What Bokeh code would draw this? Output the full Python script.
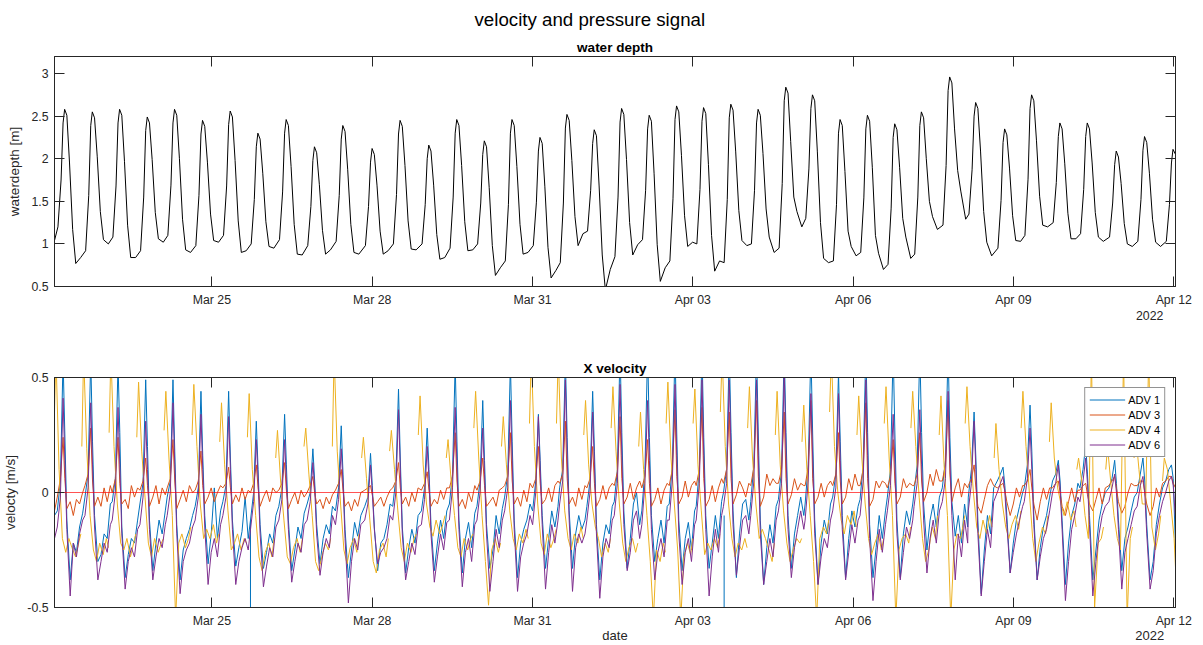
import numpy as np
from datetime import datetime
from bokeh.plotting import figure
from bokeh.layouts import column
from bokeh.models import (Range1d, FixedTicker, DatetimeTickFormatter, NumeralTickFormatter,
                          DatetimeAxis, LinearAxis, Title, Legend, LegendItem)
from bokeh.embed import file_html
from bokeh.resources import INLINE

nan = float("nan")

# ---------------- data (hours since 2022-03-22 00:00) ----------------
tick_dates = ["2022-03-25", "2022-03-28", "2022-03-31", "2022-04-03",
              "2022-04-06", "2022-04-09", "2022-04-12"]
depth_ticks = [0.5, 1, 1.5, 2, 2.5, 3]
vel_ticks = [-0.5, 0, 0.5]
zero_level = [0.0, 0.0]

depth_t = [
    1.3,
    2.85, 4.25, 5.15, 5.85, 6.85, 8.05, 9.45, 10.85, 13.05,
    15.28, 16.68, 17.58, 18.28, 19.28, 20.48, 21.88, 23.28, 25.48,
    27.53, 28.93, 29.83, 30.53, 31.53, 32.73, 34.13, 35.53, 37.73,
    39.96, 41.36, 42.26, 42.96, 43.96, 45.16, 46.56, 47.96, 50.16,
    52.21, 53.61, 54.51, 55.21, 56.21, 57.41, 58.81, 60.21, 62.41,
    64.78, 66.18, 67.08, 67.78, 68.78, 69.98, 71.38, 72.78, 74.98,
    77.21, 78.61, 79.51, 80.21, 81.21, 82.41, 83.81, 85.21, 87.41,
    89.64, 91.04, 91.94, 92.64, 93.64, 94.84, 96.24, 97.64, 99.84,
    102.35, 103.75, 104.65, 105.35, 106.35, 107.55, 108.95, 110.35, 112.55,
    115.05, 116.45, 117.35, 118.05, 119.05, 120.25, 121.65, 123.05, 125.25,
    127.79, 129.19, 130.09, 130.79, 131.79, 132.99, 134.39, 135.79, 137.99,
    140.94, 142.34, 143.24, 143.94, 144.94, 146.14, 147.54, 148.94, 151.14,
    153.51, 154.91, 155.81, 156.51, 157.51, 158.71, 160.11, 161.51, 163.71,
    166.39, 167.79, 168.69, 169.39, 170.39, 171.59, 172.99, 174.39, 176.59,
    178.96, 180.36, 181.26, 181.96, 182.96, 184.16, 185.56, 186.96, 189.16,
    191.34, 192.74, 193.64, 194.34, 195.34, 196.54, 197.94, 199.34, 201.54,
    203.77, 205.17, 206.07, 206.77, 207.77, 208.97, 210.37, 211.77, 213.97,
    216.34, 217.74, 218.64, 219.34, 220.34, 221.54, 222.94, 224.34, 226.54,
    228.46, 229.86, 230.76, 231.46, 232.46, 233.66, 235.06, 236.46, 238.66,
    240.71, 242.11, 243.01, 243.71, 244.71, 245.91, 247.31, 248.71, 250.91,
    253.01, 254.41, 255.31, 256.01, 257.01, 258.21, 259.61, 261.01, 263.21,
    265.39, 266.79, 267.69, 268.39, 269.39, 270.59, 271.99, 273.39, 275.59,
    277.69, 279.09, 279.99, 280.69, 281.69, 282.89, 284.29, 285.69, 287.89,
    289.81, 291.21, 292.11, 292.81, 293.81, 295.01, 296.41, 297.81, 300.01,
    302.06, 303.46, 304.36, 305.06, 306.06, 307.26, 308.66, 310.06, 312.26,
    314.31, 315.71, 316.61, 317.31, 318.31, 319.51, 320.91, 322.31, 324.51,
    326.75, 328.15, 329.05, 329.75, 330.75, 331.95, 333.35, 334.75, 336.95,
    338.73, 340.13, 341.03, 341.73, 342.73, 343.93, 345.33, 346.73, 348.93,
    351.12, 352.52, 353.42, 354.12, 355.12, 356.32, 357.72, 359.12, 361.32,
    363.41, 364.81, 365.71, 366.41, 367.41, 368.61, 370.01, 371.41, 373.61,
    375.67, 377.07, 377.97, 378.67, 379.67, 380.87, 382.27, 383.67, 385.87,
    387.65, 389.05, 389.95, 390.65, 391.65, 392.85, 394.25, 395.65, 397.85,
    400.35, 401.75, 402.65, 403.35, 404.35, 405.55, 406.95, 408.35, 410.55,
    412.02, 413.42, 414.32, 415.02, 416.02, 417.22, 418.62, 420.02, 422.22,
    425.03, 426.43, 427.33, 428.03, 429.03, 430.23, 431.63, 433.03, 435.23,
    437.15, 438.55, 439.45, 440.15, 441.15, 442.35, 443.75, 445.15, 447.35,
    449.85, 451.25, 452.15, 452.85, 453.85, 455.05, 456.45, 457.85, 460.05,
    462.15, 463.55, 464.45, 465.15, 466.15, 467.35, 468.75, 470.15, 472.35,
    475.16, 476.56, 477.46, 478.16, 479.16, 480.36, 481.76, 483.16, 485.36,
    487.87, 489.27, 490.17, 490.87, 491.87, 493.07, 494.47, 495.87, 498.07,
    500.66, 502.06, 502.96, 503.66, 504.8,
]
depth_v = [
    1.04,
    1.2, 1.75, 2.42, 2.58, 2.51, 1.95, 1.17, 0.77, 0.84,
    0.92, 1.57, 2.39, 2.55, 2.48, 2.03, 1.38, 1.05, 1.0,
    1.08, 1.68, 2.42, 2.58, 2.51, 1.97, 1.22, 0.84, 0.84,
    0.92, 1.55, 2.33, 2.49, 2.42, 1.99, 1.37, 1.06, 1.02,
    1.1, 1.69, 2.42, 2.58, 2.51, 2.0, 1.29, 0.93, 0.9,
    0.98, 1.57, 2.29, 2.45, 2.38, 1.96, 1.35, 1.04, 1.02,
    1.1, 1.68, 2.4, 2.56, 2.49, 1.98, 1.27, 0.9, 0.92,
    1.0, 1.52, 2.14, 2.3, 2.23, 1.83, 1.26, 0.97, 0.95,
    1.05, 1.61, 2.3, 2.46, 2.39, 1.91, 1.23, 0.88, 0.87,
    0.98, 1.44, 1.98, 2.14, 2.07, 1.7, 1.16, 0.88, 0.93,
    1.03, 1.57, 2.23, 2.39, 2.32, 1.87, 1.23, 0.9, 0.88,
    0.98, 1.44, 1.96, 2.12, 2.05, 1.69, 1.15, 0.88, 0.92,
    1.0, 1.58, 2.29, 2.45, 2.38, 1.92, 1.27, 0.94, 0.93,
    1.0, 1.46, 2.0, 2.16, 2.09, 1.69, 1.11, 0.82, 0.84,
    0.95, 1.55, 2.3, 2.46, 2.39, 1.92, 1.26, 0.92, 0.93,
    1.0, 1.48, 2.05, 2.21, 2.14, 1.66, 0.98, 0.63, 0.72,
    0.8, 1.46, 2.3, 2.46, 2.39, 1.91, 1.23, 0.88, 0.9,
    0.98, 1.49, 2.09, 2.25, 2.18, 1.67, 0.96, 0.6, 0.69,
    0.78, 1.48, 2.36, 2.52, 2.45, 1.98, 1.32, 0.98, 1.12,
    1.15, 1.63, 2.18, 2.34, 2.27, 1.68, 0.87, 0.46, 0.7,
    0.85, 1.55, 2.43, 2.59, 2.52, 1.99, 1.25, 0.87, 0.99,
    1.05, 1.63, 2.35, 2.51, 2.44, 1.83, 0.99, 0.56, 0.72,
    0.8, 1.53, 2.46, 2.62, 2.55, 2.04, 1.33, 0.97, 1.02,
    1.0, 1.64, 2.44, 2.6, 2.53, 1.93, 1.1, 0.68, 0.8,
    0.78, 1.52, 2.48, 2.64, 2.57, 2.08, 1.39, 1.04, 0.98,
    1.0, 1.63, 2.42, 2.58, 2.51, 2.06, 1.41, 1.08, 0.9,
    0.95, 1.71, 2.68, 2.84, 2.77, 2.2, 1.55, 1.38, 1.2,
    1.3, 1.88, 2.59, 2.75, 2.68, 2.08, 1.25, 0.83, 0.78,
    0.8, 1.46, 2.3, 2.46, 2.39, 1.85, 1.15, 0.97, 0.86,
    0.9, 1.54, 2.35, 2.51, 2.44, 1.9, 1.1, 0.89, 0.7,
    0.76, 1.42, 2.25, 2.41, 2.34, 1.9, 1.3, 1.08, 0.83,
    0.88, 1.55, 2.39, 2.55, 2.48, 2.0, 1.5, 1.32, 1.17,
    1.22, 1.92, 2.8, 2.96, 2.89, 2.35, 1.86, 1.62, 1.29,
    1.35, 1.87, 2.5, 2.66, 2.59, 2.09, 1.38, 1.02, 0.86,
    0.95, 1.51, 2.19, 2.35, 2.28, 1.89, 1.33, 1.04, 1.03,
    1.1, 1.76, 2.59, 2.75, 2.68, 2.21, 1.56, 1.22, 1.2,
    1.25, 1.72, 2.26, 2.42, 2.35, 1.94, 1.36, 1.06, 1.06,
    1.12, 1.64, 2.26, 2.42, 2.35, 1.95, 1.37, 1.08, 1.03,
    1.08, 1.48, 1.93, 2.09, 2.02, 1.71, 1.24, 1.0, 0.97,
    1.03, 1.52, 2.1, 2.26, 2.19, 1.83, 1.29, 1.02, 0.97,
    1.03, 1.46, 1.95, 2.11, 2.05,
]

vel_t = [
    1.3,
    2.55, 3.95, 5.15, 5.95, 6.85, 8.35, 9.75, 11.15, 12.55, 13.95,
    14.98, 16.38, 17.58, 18.38, 19.28, 20.78, 22.18, 23.58, 24.98, 26.38,
    27.23, 28.63, 29.83, 30.63, 31.53, 33.03, 34.43, 35.83, 37.23, 38.63,
    39.66, 41.06, 42.26, 43.06, 43.96, 45.46, 46.86, 48.26, 49.66, 51.06,
    51.91, 53.31, 54.51, 55.31, 56.21, 57.71, 59.11, 60.51, 61.91, 63.31,
    64.48, 65.88, 67.08, 67.88, 68.78, 70.28, 71.68, 73.08, 74.48, 75.88,
    76.91, 78.31, 79.51, 80.31, 81.21, 82.71, 84.11, 85.51, 86.91, 88.31,
    89.34, 90.74, 91.94, 92.74, 93.64, 95.14, 96.54, 97.94, 99.34, 100.74,
    102.05, 103.45, 104.65, 105.45, 106.35, 107.85, 109.25, 110.65, 112.05, 113.45,
    114.75, 116.15, 117.35, 118.15, 119.05, 120.55, 121.95, 123.35, 124.75, 126.15,
    127.49, 128.89, 130.09, 130.89, 131.79, 133.29, 134.69, 136.09, 137.49, 138.89,
    140.64, 142.04, 143.24, 144.04, 144.94, 146.44, 147.84, 149.24, 150.64, 152.04,
    153.21, 154.61, 155.81, 156.61, 157.51, 159.01, 160.41, 161.81, 163.21, 164.61,
    166.09, 167.49, 168.69, 169.49, 170.39, 171.89, 173.29, 174.69, 176.09, 177.49,
    178.66, 180.06, 181.26, 182.06, 182.96, 184.46, 185.86, 187.26, 188.66, 190.06,
    191.04, 192.44, 193.64, 194.44, 195.34, 196.84, 198.24, 199.64, 201.04, 202.44,
    203.47, 204.87, 206.07, 206.87, 207.77, 209.27, 210.67, 212.07, 213.47, 214.87,
    216.04, 217.44, 218.64, 219.44, 220.34, 221.84, 223.24, 224.64, 226.04, 227.44,
    228.16, 229.56, 230.76, 231.56, 232.46, 233.96, 235.36, 236.76, 238.16, 239.56,
    240.41, 241.81, 243.01, 243.81, 244.71, 246.21, 247.61, 249.01, 250.41, 251.81,
    252.71, 254.11, 255.31, 256.11, 257.01, 258.51, 259.91, 261.31, 262.71, 264.11,
    265.09, 266.49, 267.69, 268.49, 269.39, 270.89, 272.29, 273.69, 275.09, 276.49,
    277.39, 278.79, 279.99, 280.79, 281.69, 283.19, 284.59, 285.99, 287.39, 288.79,
    289.51, 290.91, 292.11, 292.91, 293.81, 295.31, 296.71, 298.11, 299.51, 300.91,
    301.76, 303.16, 304.36, 305.16, 306.06, 307.56, 308.96, 310.36, 311.76, 313.16,
    314.01, 315.41, 316.61, 317.41, 318.31, 319.81, 321.21, 322.61, 324.01, 325.41,
    326.45, 327.85, 329.05, 329.85, 330.75, 332.25, 333.65, 335.05, 336.45, 337.85,
    338.43, 339.83, 341.03, 341.83, 342.73, 344.23, 345.63, 347.03, 348.43, 349.83,
    350.82, 352.22, 353.42, 354.22, 355.12, 356.62, 358.02, 359.42, 360.82, 362.22,
    363.11, 364.51, 365.71, 366.51, 367.41, 368.91, 370.31, 371.71, 373.11, 374.51,
    375.37, 376.77, 377.97, 378.77, 379.67, 381.17, 382.57, 383.97, 385.37, 386.77,
    387.35, 388.75, 389.95, 390.75, 391.65, 393.15, 394.55, 395.95, 397.35, 398.75,
    400.05, 401.45, 402.65, 403.45, 404.35, 405.85, 407.25, 408.65, 410.05, 411.45,
    411.72, 413.12, 414.32, 415.12, 416.02, 417.52, 418.92, 420.32, 421.72, 423.12,
    424.73, 426.13, 427.33, 428.13, 429.03, 430.53, 431.93, 433.33, 434.73, 436.13,
    436.85, 438.25, 439.45, 440.25, 441.15, 442.65, 444.05, 445.45, 446.85, 448.25,
    449.55, 450.95, 452.15, 452.95, 453.85, 455.35, 456.75, 458.15, 459.55, 460.95,
    461.85, 463.25, 464.45, 465.25, 466.15, 467.65, 469.05, 470.45, 471.85, 473.25,
    474.86, 476.26, 477.46, 478.26, 479.16, 480.66, 482.06, 483.46, 484.86, 486.26,
    487.57, 488.97, 490.17, 490.97, 491.87, 493.37, 494.77, 496.17, 497.57, 498.97,
    500.36, 501.76, 502.96, 503.76, 504.8,
]

adv1 = [
    -0.1,
    -0.08, 0.05, 0.58, 0.25, -0.12, -0.38, -0.22, -0.26, -0.15, -0.09,
    -0.02, 0.08, 0.58, 0.22, -0.10, -0.30, -0.27, -0.18, -0.20, -0.05,
    -0.04, 0.06, 0.56, 0.26, -0.15, -0.37, -0.27, -0.20, -0.22, -0.12,
    -0.05, 0.04, 0.49, 0.20, -0.12, -0.34, -0.22, -0.12, -0.18, -0.08,
    -0.02, 0.05, 0.49, 0.18, -0.14, -0.38, -0.25, -0.20, -0.16, -0.10,
    -0.06, 0.02, 0.44, 0.16, -0.10, -0.31, -0.18, 0.02, -0.20, -0.08,
    -0.04, 0.03, 0.44, 0.15, -0.12, -0.32, -0.24, -0.17, -0.02, -0.20,
    -0.12, 0.00, 0.31, 0.10, -0.14, -0.33, -0.26, -0.18, -0.22, -0.10,
    -0.06, 0.02, 0.34, 0.12, -0.12, -0.34, -0.25, -0.15, -0.20, -0.09,
    -0.05, 0.00, 0.19, 0.05, -0.14, -0.31, -0.20, -0.14, -0.18, -0.06,
    -0.08, 0.02, 0.29, 0.08, -0.16, -0.37, -0.25, -0.13, -0.19, -0.10,
    -0.06, -0.02, 0.17, 0.03, -0.15, -0.34, -0.22, -0.20, -0.14, -0.05,
    -0.06, 0.06, 0.45, 0.15, -0.15, -0.35, -0.24, -0.16, -0.22, -0.10,
    -0.08, 0.02, 0.28, 0.10, -0.14, -0.34, -0.22, -0.12, -0.20, -0.08,
    -0.05, 0.08, 0.56, 0.22, -0.12, -0.35, -0.20, -0.13, -0.24, -0.09,
    -0.06, 0.05, 0.40, 0.14, -0.14, -0.33, -0.25, -0.10, -0.18, -0.07,
    -0.02, 0.08, 0.56, 0.22, -0.12, -0.37, -0.22, -0.16, -0.12, -0.05,
    -0.08, 0.05, 0.34, 0.14, -0.10, -0.33, -0.20, -0.08, -0.15, -0.06,
    0.02, 0.10, 0.58, 0.24, -0.08, -0.33, -0.18, -0.10, -0.16, -0.12,
    -0.06, 0.05, 0.44, 0.18, -0.14, -0.38, -0.22, -0.14, -0.18, -0.06,
    -0.04, 0.10, 0.62, 0.26, -0.08, -0.33, -0.20, -0.05, 0.00, -0.14,
    -0.08, 0.10, 0.62, 0.24, -0.10, -0.30, -0.20, -0.12, -0.22, -0.06,
    -0.05, 0.12, 0.62, 0.25, -0.12, -0.34, -0.20, -0.13, -0.25, -0.08,
    -0.06, 0.10, 0.62, 0.24, -0.10, -0.33, -0.22, -0.10, -0.20, -0.04,
    0.00, 0.10, 0.62, 0.26, -0.08, -0.37, -0.18, -0.05, -0.03, -0.12,
    -0.04, 0.12, 0.62, 0.25, -0.12, -0.40, -0.24, -0.14, -0.22, -0.06,
    -0.03, 0.10, 0.62, 0.26, -0.10, -0.33, -0.18, -0.10, -0.02, -0.10,
    -0.05, 0.12, 0.62, 0.25, -0.12, -0.40, -0.22, -0.12, -0.18, -0.05,
    -0.02, 0.08, 0.52, 0.22, -0.10, -0.37, -0.20, -0.08, -0.15, -0.06,
    -0.03, 0.12, 0.62, 0.26, -0.14, -0.37, -0.24, -0.10, -0.20, -0.08,
    -0.02, 0.10, 0.62, 0.25, -0.12, -0.37, -0.18, -0.08, -0.14, -0.05,
    0.00, 0.12, 0.62, 0.26, -0.05, -0.25, -0.12, -0.05, -0.15, -0.02,
    0.02, 0.14, 0.62, 0.24, -0.04, -0.19, -0.10, -0.22, -0.05, -0.15,
    -0.02, 0.10, 0.35, 0.15, -0.12, -0.44, -0.25, -0.10, -0.18, 0.02,
    0.05, 0.08, 0.11, 0.03, -0.10, -0.35, -0.22, -0.12, -0.06, 0.00,
    0.02, 0.12, 0.38, 0.18, -0.10, -0.38, -0.24, -0.15, -0.10, -0.02,
    0.05, 0.08, 0.14, 0.05, -0.12, -0.40, -0.22, -0.10, -0.05, 0.04,
    0.02, 0.10, 0.21, 0.08, -0.10, -0.38, -0.25, -0.12, -0.05, 0.00,
    0.02, 0.06, 0.14, 0.04, -0.12, -0.34, -0.20, -0.15, -0.08, -0.02,
    0.00, 0.08, 0.15, 0.05, -0.14, -0.38, -0.30, -0.14, -0.05, 0.02,
    0.05, 0.10, 0.12, 0.06, -0.24,
]

adv6 = [
    -0.2,
    -0.15, -0.02, 0.41, 0.14, -0.16, -0.45, -0.22, -0.28, -0.18, -0.12,
    -0.10, 0.02, 0.39, 0.12, -0.15, -0.38, -0.30, -0.22, -0.26, -0.14,
    -0.12, 0.00, 0.37, 0.12, -0.18, -0.42, -0.30, -0.24, -0.28, -0.16,
    -0.14, -0.02, 0.31, 0.10, -0.16, -0.38, -0.28, -0.20, -0.24, -0.14,
    -0.10, 0.00, 0.39, 0.12, -0.18, -0.44, -0.30, -0.25, -0.22, -0.15,
    -0.12, -0.02, 0.34, 0.10, -0.15, -0.40, -0.26, -0.20, -0.28, -0.14,
    -0.10, -0.02, 0.33, 0.10, -0.16, -0.40, -0.30, -0.24, -0.20, -0.25,
    -0.16, -0.04, 0.23, 0.06, -0.18, -0.41, -0.32, -0.24, -0.28, -0.15,
    -0.12, -0.03, 0.23, 0.05, -0.16, -0.39, -0.30, -0.22, -0.26, -0.14,
    -0.12, -0.04, 0.13, 0.02, -0.18, -0.36, -0.26, -0.20, -0.24, -0.10,
    -0.14, -0.03, 0.19, 0.04, -0.20, -0.48, -0.30, -0.20, -0.25, -0.14,
    -0.12, -0.05, 0.12, 0.00, -0.16, -0.31, -0.26, -0.24, -0.20, -0.10,
    -0.12, 0.00, 0.36, 0.10, -0.18, -0.38, -0.30, -0.22, -0.27, -0.15,
    -0.14, -0.03, 0.20, 0.06, -0.18, -0.39, -0.28, -0.18, -0.25, -0.13,
    -0.12, 0.02, 0.37, 0.12, -0.16, -0.41, -0.26, -0.20, -0.30, -0.14,
    -0.12, 0.00, 0.28, 0.08, -0.18, -0.43, -0.30, -0.16, -0.24, -0.12,
    -0.08, 0.02, 0.40, 0.14, -0.16, -0.43, -0.28, -0.22, -0.18, -0.10,
    -0.14, 0.00, 0.33, 0.10, -0.14, -0.42, -0.26, -0.14, -0.22, -0.12,
    -0.05, 0.05, 0.49, 0.16, -0.12, -0.43, -0.24, -0.18, -0.22, -0.18,
    -0.12, 0.00, 0.35, 0.12, -0.18, -0.46, -0.28, -0.20, -0.24, -0.12,
    -0.10, 0.04, 0.47, 0.16, -0.14, -0.34, -0.26, -0.12, -0.08, -0.20,
    -0.14, 0.04, 0.40, 0.14, -0.16, -0.38, -0.26, -0.20, -0.28, -0.12,
    -0.12, 0.05, 0.47, 0.16, -0.18, -0.40, -0.26, -0.20, -0.30, -0.14,
    -0.12, 0.04, 0.49, 0.16, -0.16, -0.45, -0.28, -0.16, -0.26, -0.10,
    -0.06, 0.04, 0.49, 0.18, -0.14, -0.36, -0.24, -0.12, -0.10, -0.18,
    -0.10, 0.05, 0.49, 0.16, -0.18, -0.40, -0.30, -0.20, -0.28, -0.12,
    -0.08, 0.04, 0.52, 0.18, -0.16, -0.37, -0.24, -0.16, -0.08, -0.16,
    -0.12, 0.05, 0.43, 0.15, -0.18, -0.40, -0.28, -0.20, -0.24, -0.12,
    -0.08, 0.02, 0.43, 0.14, -0.16, -0.38, -0.26, -0.14, -0.22, -0.12,
    -0.10, 0.05, 0.49, 0.16, -0.20, -0.47, -0.30, -0.16, -0.26, -0.14,
    -0.08, 0.03, 0.34, 0.12, -0.18, -0.38, -0.26, -0.15, -0.20, -0.12,
    -0.06, 0.04, 0.36, 0.12, -0.12, -0.35, -0.20, -0.12, -0.22, -0.08,
    -0.04, 0.06, 0.44, 0.14, -0.10, -0.38, -0.18, -0.28, -0.12, -0.22,
    -0.08, 0.04, 0.31, 0.10, -0.18, -0.45, -0.30, -0.16, -0.24, -0.04,
    0.00, 0.04, 0.07, 0.00, -0.14, -0.35, -0.26, -0.18, -0.12, -0.06,
    -0.04, 0.06, 0.28, 0.10, -0.14, -0.38, -0.28, -0.20, -0.16, -0.08,
    0.00, 0.04, 0.12, 0.02, -0.16, -0.47, -0.30, -0.16, -0.10, -0.02,
    -0.04, 0.05, 0.15, 0.04, -0.14, -0.45, -0.30, -0.18, -0.10, -0.06,
    -0.04, 0.02, 0.08, 0.00, -0.16, -0.42, -0.26, -0.20, -0.14, -0.08,
    -0.06, 0.03, 0.07, 0.00, -0.18, -0.42, -0.34, -0.18, -0.10, -0.04,
    0.00, 0.05, 0.07, 0.03, -0.12,
]

adv3 = [
    -0.08,
    -0.02, 0.06, 0.24, 0.06, -0.07, -0.04, -0.10, -0.03, -0.05, 0.00,
    0.03, 0.08, 0.28, 0.05, -0.06, -0.02, -0.06, 0.02, -0.04, 0.03,
    0.00, 0.06, 0.24, 0.04, -0.05, -0.03, -0.07, 0.03, -0.02, 0.02,
    0.01, 0.05, 0.15, 0.03, -0.06, -0.02, 0.03, -0.05, 0.02, -0.01,
    0.02, 0.06, 0.23, 0.05, -0.07, -0.03, 0.01, -0.04, 0.03, 0.00,
    0.01, 0.05, 0.18, 0.03, -0.05, -0.02, 0.02, -0.04, 0.00, 0.03,
    0.02, 0.04, 0.11, 0.02, -0.05, -0.01, -0.04, 0.02, -0.03, 0.01,
    0.00, 0.04, 0.12, 0.02, -0.06, -0.02, 0.01, -0.04, 0.02, 0.00,
    0.01, 0.04, 0.13, 0.01, -0.07, -0.03, 0.00, -0.05, 0.01, -0.02,
    0.00, 0.03, 0.07, 0.00, -0.05, -0.03, -0.07, -0.02, -0.05, -0.01,
    0.01, 0.04, 0.10, 0.01, -0.06, -0.04, -0.08, -0.03, -0.06, 0.00,
    0.01, 0.02, 0.03, -0.01, -0.06, -0.04, -0.02, -0.06, -0.02, 0.01,
    0.02, 0.05, 0.13, 0.02, -0.05, -0.02, -0.06, 0.00, -0.04, 0.02,
    0.01, 0.04, 0.09, 0.01, -0.06, -0.03, -0.05, 0.01, -0.03, 0.02,
    0.02, 0.07, 0.26, 0.05, -0.06, -0.03, -0.07, 0.00, -0.04, 0.03,
    0.01, 0.05, 0.15, 0.03, -0.06, -0.04, -0.02, -0.06, 0.01, 0.02,
    0.03, 0.07, 0.26, 0.05, -0.05, -0.02, -0.06, 0.01, -0.04, 0.04,
    0.02, 0.06, 0.20, 0.04, -0.05, -0.03, 0.02, -0.04, 0.03, 0.05,
    0.04, 0.08, 0.31, 0.06, -0.05, -0.02, -0.06, 0.02, -0.03, 0.03,
    0.02, 0.06, 0.20, 0.04, -0.06, -0.03, 0.03, -0.03, 0.02, 0.04,
    0.03, 0.09, 0.33, 0.06, -0.05, -0.02, 0.04, -0.03, 0.02, 0.05,
    0.02, 0.07, 0.23, 0.04, -0.06, -0.03, 0.02, -0.05, 0.01, 0.04,
    0.03, 0.10, 0.36, 0.07, -0.05, -0.02, 0.05, -0.02, 0.03, 0.05,
    0.03, 0.10, 0.37, 0.06, -0.06, -0.03, 0.03, -0.04, 0.02, 0.06,
    0.04, 0.10, 0.35, 0.06, -0.05, -0.01, 0.05, 0.02, -0.02, 0.04,
    0.03, 0.11, 0.40, 0.07, -0.06, -0.02, 0.08, 0.03, 0.06, 0.04,
    0.04, 0.10, 0.35, 0.06, -0.05, -0.01, 0.06, 0.01, 0.04, 0.03,
    0.03, 0.11, 0.40, 0.06, -0.05, -0.02, 0.04, -0.02, 0.03, 0.05,
    0.03, 0.08, 0.26, 0.05, -0.05, -0.02, 0.06, 0.01, 0.08, 0.03,
    0.03, 0.10, 0.39, 0.06, -0.06, -0.03, 0.05, 0.02, 0.05, 0.04,
    0.02, 0.07, 0.23, 0.04, -0.05, -0.02, 0.06, 0.02, 0.04, 0.03,
    0.03, 0.08, 0.26, 0.05, -0.04, 0.00, 0.08, 0.03, 0.10, 0.05,
    0.05, 0.12, 0.40, 0.08, -0.04, 0.02, 0.06, -0.02, 0.04, 0.02,
    0.03, 0.06, 0.12, 0.02, -0.06, -0.09, -0.03, 0.03, 0.06, 0.03,
    0.02, 0.03, 0.04, 0.01, -0.04, -0.10, -0.05, 0.02, -0.02, 0.03,
    0.03, 0.05, 0.10, 0.02, -0.05, -0.12, -0.04, 0.02, -0.03, 0.02,
    0.02, 0.04, 0.05, 0.00, -0.06, -0.10, -0.04, 0.02, -0.04, 0.01,
    0.01, 0.03, 0.04, -0.01, -0.05, -0.08, -0.03, 0.02, -0.05, 0.02,
    0.03, 0.05, 0.07, 0.02, -0.04, -0.09, -0.06, 0.00, 0.04, 0.03,
    0.03, 0.05, 0.05, 0.00, -0.05, -0.10, -0.06, 0.02, -0.02, 0.04,
    0.05, 0.07, 0.07, 0.04, 0.02,
]

adv4_t = [
    1.3, 1.95, 3.35, 4.85, 6.35, 7.75, 9.15, 10.75, 12.15, 13.15, 13.35,
    13.58, 14.38, 15.78, 17.28, 18.78, 20.18, 21.58, 23.18, 24.58, 25.58, 25.7,
    25.83, 26.63, 28.03, 29.53, 31.03, 32.43, 33.83, 35.43, 36.83, 37.83, 38.0,
    38.26, 39.06, 40.46, 41.96, 43.46, 44.86, 46.26, 47.86, 49.26, 50.26, 50.4,
    50.51, 51.31, 52.71, 54.21, 55.71, 57.11, 58.51, 60.11, 61.51, 62.51, 62.7,
    63.08, 63.88, 65.28, 66.78, 68.28, 69.68, 71.08, 72.68, 74.08, 75.08, 75.3,
    75.51, 76.31, 77.71, 79.21, 80.71, 82.11, 83.51, 85.11, 86.51, 87.51, 87.7,
    87.94, 88.74, 90.14, 91.64, 93.14, 94.54, 95.94, 97.54, 98.94, 99.94, 100.1,
    100.65, 101.45, 102.85, 104.35, 105.85, 107.25, 108.65, 110.25, 111.65, 112.65, 112.9,
    113.35, 114.15, 115.55, 117.05, 118.55, 119.95, 121.35, 122.95, 124.35, 125.35, 125.6,
    126.09, 126.89, 128.29, 129.79, 131.29, 132.69, 134.09, 135.69, 137.09, 138.09, 138.3,
    139.24, 140.04, 141.44, 142.94, 144.44, 145.84, 147.24, 148.84, 150.24, 151.24, 151.4,
    151.81, 152.61, 154.01, 155.51, 157.01, 158.41, 159.81, 161.41, 162.81, 163.81, 164.0,
    164.69, 165.49, 166.89, 168.39, 169.89, 171.29, 172.69, 174.29, 175.69, 176.69, 176.9,
    177.26, 178.06, 179.46, 180.96, 182.46, 183.86, 185.26, 186.86, 188.26, 189.26, 189.45,
    189.64, 190.44, 191.84, 193.34, 194.84, 196.24, 197.64, 199.24, 200.64, 201.64, 201.85,
    202.07, 202.87, 204.27, 205.77, 207.27, 208.67, 210.07, 211.67, 213.07, 214.07, 214.3,
    214.64, 215.44, 216.84, 218.34, 219.84, 221.24, 222.64, 224.24, 225.64, 226.64, 226.7,
    226.76, 227.56, 228.96, 230.46, 231.96, 233.36, 234.76, 236.36, 237.76, 238.76, 238.9,
    239.01, 239.81, 241.21, 242.71, 244.21, 245.61, 247.01, 248.61, 250.01, 251.01, 251.15,
    251.31, 252.11, 253.51, 255.01, 256.51, 257.91, 259.31, 260.91, 262.31, 263.31, 263.5,
    263.69, 264.49, 265.89, 267.39, 268.89, 270.29, 271.69, 273.29, 274.69, 275.69, 275.85,
    275.99, 276.79, 278.19, 279.69, 281.19, 282.59, 283.99, 285.59, 286.99, 287.99, 288.05,
    288.11, 288.91, 290.31, 291.81, 293.31, 294.71, 296.11, 297.71, 299.11, 300.11, 300.2,
    300.36, 301.16, 302.56, 304.06, 305.56, 306.96, 308.36, 309.96, 311.36, 312.36, 312.5,
    312.61, 313.41, 314.81, 316.31, 317.81, 319.21, 320.61, 322.21, 323.61, 324.61, 324.8,
    325.05, 325.85, 327.25, 328.75, 330.25, 331.65, 333.05, 334.65, 336.05, 336.85, 336.95,
    337.03, 337.83, 339.23, 340.73, 342.23, 343.63, 345.03, 346.63, 348.03, 349.03, 349.2,
    349.42, 350.22, 351.62, 353.12, 354.62, 356.02, 357.42, 359.02, 360.42, 361.42, 361.6,
    361.71, 362.51, 363.91, 365.41, 366.91, 368.31, 369.71, 371.31, 372.71, 373.71, 373.85,
    373.97, 374.77, 376.17, 377.67, 379.17, 380.57, 381.97, 383.57, 384.97, 385.77, 385.85,
    385.95, 386.75, 388.15, 389.65, 391.15, 392.55, 393.95, 395.55, 396.95, 397.95, 398.2,
    398.65, 399.45, 400.85, 402.35, 403.85, 405.25, 406.65, 408.25, 409.25, 410.15, 410.25,
    410.32, 411.12, 412.52, 414.02, 415.52, 416.92, 418.32, 419.92, 421.32, 422.32, 422.5,
    423.33, 424.13, 425.53, 427.03, 428.53, 429.93, 431.33, 432.93, 434.33, 435.33, 435.4,
    435.45, 436.25, 437.65, 439.15, 440.65, 442.05, 443.45, 445.05, 446.45, 447.45, 447.7,
    448.15, 448.95, 450.35, 451.85, 453.35, 454.75, 456.15, 457.75, 459.15, 460.15, 460.3,
    460.45, 461.25, 462.65, 464.15, 465.65, 467.05, 468.45, 470.05, 471.45, 472.45, 472.6,
    473.46, 474.26, 475.66, 477.16, 478.66, 480.06, 481.46, 483.06, 484.46, 485.46, 485.6,
    486.17, 486.97, 488.37, 489.87, 491.37, 492.77, 494.17, 495.77, 497.17, 498.17, 498.4,
    498.96, 499.76, 501.16, 502.66, 504.16, 504.8,
]
adv4 = [
    0.35, 0.6, 0.1, -0.2, -0.26, -0.2, -0.24, -0.28, -0.22, -0.18, nan,
    0.2, 0.6, 0.19, -0.1, -0.25, -0.3, -0.22, -0.27, -0.2, -0.24, nan,
    0.26, 0.6, 0.2, -0.05, -0.22, -0.25, -0.2, -0.28, -0.22, -0.18, nan,
    0.24, 0.48, 0.18, -0.02, -0.22, -0.28, -0.2, -0.26, -0.22, -0.2, nan,
    0.27, 0.44, 0.15, -0.1, -0.55, -0.22, -0.18, -0.24, -0.2, -0.15, nan,
    0.25, 0.47, 0.2, -0.05, -0.2, -0.16, -0.2, -0.14, -0.22, -0.18, nan,
    0.22, 0.39, 0.12, -0.08, -0.25, -0.22, -0.18, -0.25, -0.2, -0.22, nan,
    0.24, 0.43, 0.1, -0.1, -0.28, -0.34, -0.26, -0.22, -0.28, -0.2, nan,
    0.15, 0.27, 0.05, -0.12, -0.28, -0.31, -0.24, -0.2, -0.26, -0.2, nan,
    0.2, 0.28, 0.08, -0.1, -0.3, -0.34, -0.28, -0.22, -0.25, -0.2, nan,
    0.2, 0.6, 0.18, -0.05, -0.25, -0.31, -0.24, -0.2, -0.26, -0.18, nan,
    0.15, 0.24, 0.06, -0.12, -0.3, -0.35, -0.25, -0.22, -0.28, -0.2, nan,
    0.18, 0.27, 0.1, -0.08, -0.24, -0.3, -0.22, -0.26, -0.2, -0.18, nan,
    0.25, 0.42, 0.12, -0.05, -0.15, -0.19, -0.12, -0.18, -0.14, -0.1, nan,
    0.15, 0.23, 0.05, -0.1, -0.24, -0.28, -0.2, -0.25, -0.2, -0.18, nan,
    0.28, 0.44, 0.15, -0.1, -0.3, -0.49, -0.25, -0.2, -0.26, -0.22, nan,
    0.2, 0.33, 0.12, -0.08, -0.2, -0.25, -0.18, -0.22, -0.16, -0.2, nan,
    0.3, 0.6, 0.2, -0.05, -0.22, -0.27, -0.18, -0.24, -0.2, -0.16, nan,
    0.3, 0.6, 0.15, -0.08, -0.2, -0.25, -0.18, -0.22, -0.15, -0.2, nan,
    0.25, 0.4, 0.12, -0.05, -0.15, -0.2, -0.28, -0.22, -0.26, -0.2, nan,
    0.28, 0.46, 0.18, -0.05, -0.22, -0.3, -0.24, -0.2, -0.26, -0.22, nan,
    0.2, 0.35, 0.1, -0.1, -0.3, -0.55, -0.25, -0.3, -0.22, -0.26, nan,
    0.3, 0.48, 0.15, -0.05, -0.25, -0.55, -0.28, -0.22, -0.27, -0.2, nan,
    0.3, 0.45, 0.12, -0.08, -0.27, -0.22, -0.25, -0.2, -0.24, -0.18, nan,
    0.35, 0.6, 0.2, -0.05, -0.2, -0.28, -0.22, -0.25, -0.2, -0.24, nan,
    0.28, 0.46, 0.15, -0.05, -0.2, -0.16, -0.2, -0.25, -0.3, -0.22, nan,
    0.25, 0.44, 0.12, -0.08, -0.22, -0.3, -0.25, -0.2, -0.22, -0.2, nan,
    0.22, 0.38, 0.1, -0.1, -0.3, -0.55, -0.2, -0.15, -0.18, -0.12, nan,
    0.35, 0.6, 0.2, 0.0, -0.12, -0.18, -0.1, -0.14, -0.08, -0.15, nan,
    0.25, 0.42, 0.15, -0.05, -0.2, -0.27, -0.22, -0.18, -0.25, -0.2, nan,
    0.3, 0.46, 0.15, -0.1, -0.55, -0.25, -0.2, -0.18, -0.22, -0.15, nan,
    0.28, 0.44, 0.2, -0.02, -0.2, -0.3, -0.25, -0.15, -0.2, -0.1, nan,
    0.25, 0.42, 0.12, -0.1, -0.55, -0.25, -0.18, -0.2, -0.15, -0.1, nan,
    0.3, 0.46, 0.2, 0.0, -0.15, -0.2, -0.12, -0.18, -0.1, -0.15, nan,
    0.15, 0.3, 0.1, -0.05, -0.15, -0.2, -0.14, -0.1, -0.16, -0.08, nan,
    0.28, 0.44, 0.2, 0.0, -0.2, -0.3, -0.22, -0.15, -0.18, -0.1, nan,
    0.22, 0.39, 0.15, 0.02, -0.05, -0.1, -0.04, -0.12, -0.08, -0.15, nan,
    0.1, 0.15, 0.05, -0.1, -0.2, 0.6, -0.5, -0.22, -0.2, -0.15, nan,
    0.1, 0.2, 0.05, -0.1, -0.2, -0.25, 0.6, -0.55, -0.2, -0.15, nan,
    0.15, 0.25, 0.1, -0.05, -0.05, 0.6, -0.15, -0.25, -0.18, -0.1, nan,
    0.05, 0.15, 0.1, -0.05, -0.2, -0.33,
]

adv1_spike_t = [89.32, 302.06]
adv1_spike_from = [-0.12, -0.1]
adv1_spike_to = [-0.62, -0.62]

# ---------------- helpers ----------------
T0 = np.datetime64("2022-03-22T00:00:00", "ms")


def to_dt(hours):
    ms_ = np.round(np.asarray(hours, dtype=float) * 3600000.0).astype("int64")
    return T0 + ms_.astype("timedelta64[ms]")


def ms(d):
    return float(np.datetime64(d, "ms").astype("int64"))


tick_ms = [ms(d) for d in tick_dates]

X_START = datetime(2022, 3, 22, 1, 18)
X_END = datetime(2022, 4, 12, 0, 47)
xs_ms = ms(np.datetime64(X_START))
xe_ms = ms(np.datetime64(X_END))


def frac_pos(f):
    # position along the frame as a fraction of its width (for secondary labels)
    return xs_ms + f * (xe_ms - xs_ms)


FONT = "Liberation Sans"
AX = "#262626"
C1, C3, C4, C6 = "#0072BD", "#D95319", "#EDB120", "#7E2F8E"

xr = Range1d(start=X_START, end=X_END)


def style_axis(ax):
    ax.major_tick_in = 10
    ax.major_tick_out = 0
    ax.minor_tick_line_color = None
    ax.axis_line_color = AX
    ax.axis_line_width = 1
    ax.major_tick_line_color = AX
    ax.major_tick_line_width = 1
    ax.major_label_text_color = AX
    ax.major_label_text_font = FONT
    ax.major_label_text_font_size = "12.3px"
    ax.axis_label_text_font = FONT
    ax.axis_label_text_font_size = "13.5px"
    ax.axis_label_text_font_style = "normal"
    ax.axis_label_text_color = AX


def make_fig(height, btop, bbottom, yr, yticks, ylabel):
    p = figure(width=1203, height=height, x_axis_type="datetime", x_range=xr, y_range=yr,
               output_backend="svg", toolbar_location=None, title=None,
               min_border_left=53, min_border_right=28,
               min_border_top=btop, min_border_bottom=bbottom)
    p.grid.visible = False
    p.outline_line_color = AX
    p.outline_line_width = 1
    p.background_fill_color = "white"
    p.border_fill_color = "white"

    xt = FixedTicker(ticks=tick_ms, minor_ticks=[])
    yt = FixedTicker(ticks=yticks, minor_ticks=[])
    fmt = DatetimeTickFormatter(days="%b %d", months="%b %d", hours="%b %d",
                                hourmin="%b %d", years="%b %d")

    bottom_ax = p.below[0]
    left_ax = p.left[0]
    bottom_ax.ticker = xt
    bottom_ax.formatter = fmt
    left_ax.ticker = yt
    left_ax.formatter = NumeralTickFormatter(format="0.[0]")
    left_ax.axis_label = ylabel

    top_ax = DatetimeAxis(ticker=xt, formatter=fmt)
    right_ax = LinearAxis(ticker=yt)
    p.add_layout(top_ax, "above")
    p.add_layout(right_ax, "right")

    for ax in [bottom_ax, left_ax, top_ax, right_ax]:
        style_axis(ax)
    for ax in [top_ax, right_ax]:
        ax.major_label_text_color = None
        ax.major_label_text_font_size = "1px"
        ax.major_label_standoff = 0
    bottom_ax.major_label_standoff = 6
    left_ax.major_label_standoff = 6
    left_ax.axis_label_standoff = 6
    return p


def add_second_line(p, labels, size, standoff):
    # second row of x labels below the date ticks (year / axis name)
    pos = [frac_pos(f) for f, _ in labels]
    ax = DatetimeAxis(ticker=FixedTicker(ticks=pos, minor_ticks=[]),
                      major_label_overrides={k: t for k, (_, t) in zip(pos, labels)})
    style_axis(ax)
    ax.axis_line_color = None
    ax.major_tick_line_color = None
    ax.major_tick_in = 0
    ax.major_tick_out = 0
    ax.major_label_standoff = standoff
    ax.major_label_text_font_size = size
    p.add_layout(ax, "below")


# ---------------- top: water depth ----------------
p1 = make_fig(340, 56, 54, Range1d(0.5, 3.2), depth_ticks, "waterdepth [m]")
p1.add_layout(Title(text="water depth", align="center", text_font=FONT,
                    text_font_size="13.5px", text_font_style="bold",
                    text_color="black", standoff=4), "above")
p1.add_layout(Title(text="velocity and pressure signal", align="left", offset=420,
                    text_font=FONT, text_font_size="18.7px", text_font_style="normal",
                    text_color="black", standoff=12), "above")
p1.line(to_dt(depth_t), depth_v, line_color="black", line_width=1)
add_second_line(p1, [(0.977, "2022")], "12.3px", 1)

# ---------------- bottom: X velocity ----------------
p2 = make_fig(305, 37, 38, Range1d(-0.5, 0.5), vel_ticks, "velocty [m/s]")
p2.add_layout(Title(text="X velocity", align="center", text_font=FONT,
                    text_font_size="13.5px", text_font_style="bold",
                    text_color="black", standoff=3), "above")
add_second_line(p2, [(0.5, "date"), (0.977, "2022")], "13px", -3)

vx = to_dt(vel_t)
r1 = p2.line(vx, adv1, line_color=C1, line_width=1)
p2.segment(x0=to_dt(adv1_spike_t), y0=adv1_spike_from, x1=to_dt(adv1_spike_t),
           y1=adv1_spike_to, line_color=C1, line_width=1)
r3 = p2.line(vx, adv3, line_color=C3, line_width=1)
r4 = p2.line(to_dt(adv4_t), adv4, line_color=C4, line_width=1)
r6 = p2.line(vx, adv6, line_color=C6, line_width=1)
# zero reference line across the whole x range
p2.line([X_START, X_END], zero_level, line_color="#FF0000", line_width=0.8, line_alpha=0.85)

legend = Legend(items=[LegendItem(label="ADV 1", renderers=[r1]),
                       LegendItem(label="ADV 3", renderers=[r3]),
                       LegendItem(label="ADV 4", renderers=[r4]),
                       LegendItem(label="ADV 6", renderers=[r6])],
                location="top_right", margin=10, padding=4, spacing=0,
                glyph_width=36, glyph_height=15, label_height=14, label_standoff=3,
                label_text_font=FONT, label_text_font_size="11px", label_text_color="black",
                border_line_color=AX, border_line_width=1,
                background_fill_color="white", background_fill_alpha=1)
p2.add_layout(legend)

layout = column(p1, p2, spacing=0)
open("out.html", "w").write(file_html(layout, INLINE))
